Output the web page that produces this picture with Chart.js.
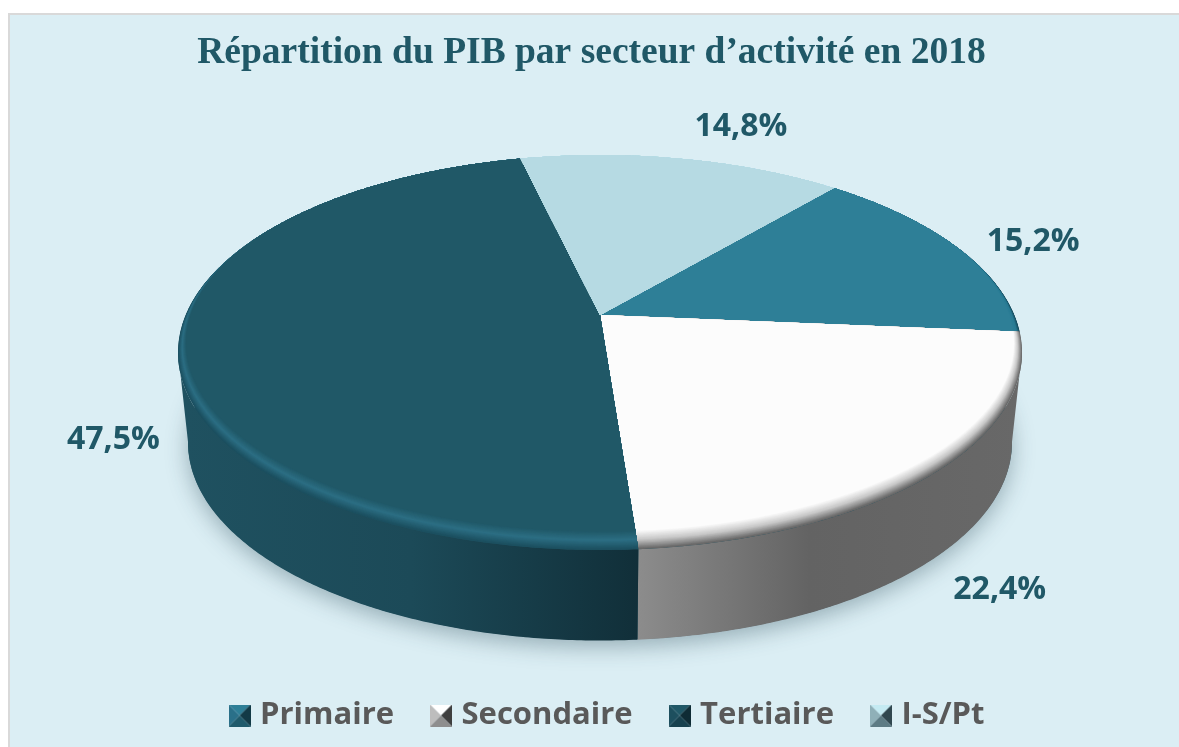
<!DOCTYPE html>
<html><head><meta charset="utf-8">
<style>
html,body{margin:0;padding:0;background:#fff;width:1179px;height:747px;overflow:hidden}
#panel{position:absolute;left:8px;top:13px;right:0;bottom:0;background:#DBEEF4;border-top:2px solid #D9D9D9;border-left:2px solid #D9D9D9}
#c{position:absolute;left:0;top:0}
</style>
<script src="https://cdn.jsdelivr.net/npm/chart.js@4/dist/chart.umd.min.js"></script>
</head><body>
<div id="panel"></div>
<canvas id="c" width="1179" height="747"></canvas>
<script>
const titleText = "Répartition du PIB par secteur d’activité en 2018";
const categories = ["Primaire", "Secondaire", "Tertiaire", "I-S/Pt"];
const shares = [15.2, 22.4, 47.5, 14.8];
const shareLabels = ["15,2%", "22,4%", "47,5%", "14,8%"];
const faceColors = ["#2E7F97", "#FCFCFC", "#205867", "#B6DAE3"];

/* style: projection of the flat pie on a tilted plane */
const VIEW = {cx:600, apexY:315, c:414.3, a:130.5, p:-0.19,
  ell:{cy:352, rx:422, ry:197.5}, base:{cy:442, rx:412, ry:198}};
const BEVEL = [
  ["#15485A","#2A7C94","#2E7F97"],
  ["#6A6A6A","#C8C8C8","#FCFCFC"],
  ["#1C5060","#2C6E83","#205867"],
  ["#A8CEDA","#B6DAE3","#B6DAE3"]];
const WALL = [null,
  [[0,"#8C8C8C"],[0.45,"#636363"],[1,"#686868"]],
  [[0,"#1F5160"],[0.5,"#1C4A58"],[1,"#112F39"]], null];
const WALL_X = [null,[638,1020],[185,638],null];
const LABEL_OFFSET = [[76,-5],[63,118],[-65,95],[59,-32]];
const SWATCH = [
  ["#2E7F97","#2A7089","#123A46","#1F5A6B"],
  ["#FFFFFF","#BDBDBD","#3F3F3F","#8E8E8E"],
  ["#205867","#1D4F5E","#0F2C35","#17414E"],
  ["#C4EAF2","#8FB0B8","#30474F","#5D7B84"]];

function proj(t){
  const u=Math.cos(t), v=Math.sin(t), d=1+VIEW.p*v;
  return [VIEW.cx+VIEW.c*u/d, (VIEW.a*v+VIEW.apexY)/d];
}
function toBase(q){
  return [VIEW.cx+(q[0]-VIEW.cx)*VIEW.base.rx/VIEW.ell.rx,
          VIEW.base.cy+(q[1]-VIEW.ell.cy)*VIEW.base.ry/VIEW.ell.ry];
}
function arcPts(a,b){
  const n=Math.max(2,Math.ceil(Math.abs(b-a)/(Math.PI/360))), o=[];
  for(let i=0;i<=n;i++) o.push(proj(a+(b-a)*i/n));
  return o;
}
function mix(h1,h2,f){
  const g=(h,i)=>parseInt(h.substr(1+2*i,2),16);
  return "rgb("+[0,1,2].map(i=>Math.round(g(h1,i)+(g(h2,i)-g(h1,i))*f)).join(",")+")";
}
const swatch = s=>{
  const k=document.createElement("canvas"); k.width=k.height=22;
  const x=k.getContext("2d"), S=22, C=11, tri=(a,b,c)=>{x.fillStyle=c;x.beginPath();x.moveTo(a[0],a[1]);x.lineTo(b[0],b[1]);x.lineTo(C,C);x.closePath();x.fill();};
  tri([0,0],[S,0],s[0]); tri([0,S],[0,0],s[1]); tri([S,0],[S,S],s[2]); tri([S,S],[0,S],s[3]);
  return k;
};
const swatches = SWATCH.map(swatch);

const pie3d = {
  id:"pie3d",
  afterLayout(ch){
    ch.legend.left+=10; ch.legend.right+=10;
    ch.titleBlock.left-=8; ch.titleBlock.right-=8;
  },
  beforeDatasetsDraw(ch){
    const x=ch.ctx, els=ch.getDatasetMeta(0).data;
    const rimLo=Math.asin(0.187), rimHi=Math.PI-rimLo;
    x.save();
    /* ground shadow */
    x.save();
    x.shadowColor="rgba(40,70,85,0.38)"; x.shadowBlur=22; x.shadowOffsetY=7;
    x.fillStyle="#1F4F5E";
    x.beginPath(); x.ellipse(VIEW.cx,VIEW.base.cy,VIEW.base.rx,VIEW.base.ry,0,0,Math.PI*2); x.fill();
    x.restore();
    /* side walls */
    els.forEach((el,i)=>{
      if(!WALL[i]) return;
      const a=Math.max(el.startAngle,rimLo), b=Math.min(el.endAngle,rimHi);
      const top=arcPts(a,b), bot=top.map(toBase).reverse();
      const g=x.createLinearGradient(WALL_X[i][0],0,WALL_X[i][1],0);
      WALL[i].forEach(s=>g.addColorStop(s[0],s[1]));
      x.fillStyle=g; x.beginPath();
      top.concat(bot).forEach((q,j)=>j?x.lineTo(q[0],q[1]):x.moveTo(q[0],q[1]));
      x.closePath(); x.fill();
    });
    /* top faces */
    els.forEach((el,i)=>{
      const pts=arcPts(el.startAngle,el.endAngle);
      x.save();
      x.beginPath(); x.moveTo(VIEW.cx,VIEW.apexY);
      pts.forEach(q=>x.lineTo(q[0],q[1])); x.closePath();
      x.fillStyle=BEVEL[i][0]; x.fill();
      x.clip();
      const st=BEVEL[i], N=20;
      for(let k=0;k<=N;k++){
        const t=k/N, col=t<0.5?mix(st[0],st[1],t*2):mix(st[1],st[2],(t-0.5)*2);
        x.fillStyle=col; x.beginPath();
        x.ellipse(VIEW.cx,VIEW.ell.cy-9*t,VIEW.ell.rx-8*t,VIEW.ell.ry-9*t,0,0,Math.PI*2);
        x.fill();
      }
      x.restore();
    });
    /* value labels */
    x.font='bold 32px "Open Sans"'; x.fillStyle="#205867";
    x.textAlign="center"; x.textBaseline="middle";
    els.forEach((el,i)=>{
      const r=proj((el.startAngle+el.endAngle)/2);
      x.fillText(shareLabels[i], r[0]+LABEL_OFFSET[i][0], r[1]+LABEL_OFFSET[i][1]);
    });
    x.restore();
    return false;
  }
};

new Chart(document.getElementById("c"),{
  type:"pie",
  data:{labels:categories,datasets:[{data:shares,backgroundColor:faceColors,borderWidth:0}]},
  options:{
    responsive:false, animation:false, events:[],
    rotation:40.2,
    layout:{padding:{left:180,right:160,top:4,bottom:6}},
    plugins:{
      tooltip:{enabled:false},
      title:{display:true,text:titleText,color:"#205867",
        font:{family:'"Liberation Serif"',size:37.5,weight:"bold"},padding:{top:27,bottom:20}},
      legend:{position:"bottom",
        labels:{usePointStyle:true,boxWidth:10,padding:42,color:"#595959",
          font:{family:'"Open Sans"',size:31,weight:"bold"},
          generateLabels:ch=>categories.map((t,i)=>({text:t,pointStyle:swatches[i],fontColor:"#595959",lineWidth:0,hidden:false,index:i}))}}
    }
  },
  plugins:[pie3d]
});
</script>
</body></html>
